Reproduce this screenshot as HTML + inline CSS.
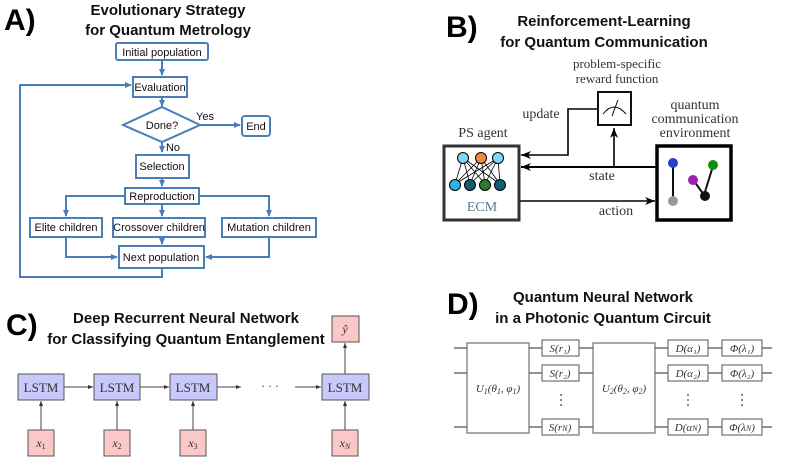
<!DOCTYPE html>
<html><head><meta charset="utf-8"><style>
html,body{margin:0;padding:0;background:#fff}
svg{display:block}
.t{font-family:"Liberation Sans",sans-serif;font-weight:bold;font-size:15px;fill:#111;text-anchor:middle}
.big{font-family:"Liberation Sans",sans-serif;font-weight:bold;font-size:30px;fill:#000}
.fb{fill:#fff;stroke:#4a7ebb;stroke-width:2}
.ft{font-family:"Liberation Sans",sans-serif;font-size:11px;fill:#111;text-anchor:middle}
.fl{stroke:#4a7ebb;stroke-width:2;fill:none}
.s{font-family:"Liberation Serif",serif;font-size:14px;fill:#333;text-anchor:middle}
.m{font-family:"Liberation Serif",serif;font-size:12px;fill:#333;text-anchor:middle;font-style:italic}
.k{stroke:#000;stroke-width:2;fill:none}
</style></head><body>
<svg width="789" height="466" viewBox="0 0 789 466" xmlns="http://www.w3.org/2000/svg">
<defs>
<marker id="ab" markerWidth="8" markerHeight="8" refX="6" refY="4" orient="auto" markerUnits="userSpaceOnUse"><path d="M0,1 L7,4 L0,7 z" fill="#4a7ebb"/></marker>
<marker id="ak" markerWidth="12" markerHeight="10" refX="10" refY="5" orient="auto" markerUnits="userSpaceOnUse"><path d="M0,1 L10,5 L0,9 L3,5 z" fill="#000"/></marker>
<marker id="as" markerWidth="6" markerHeight="6" refX="5" refY="3" orient="auto" markerUnits="userSpaceOnUse"><path d="M0,1 L5,3 L0,5 z" fill="#333"/></marker>
</defs>

<!-- A -->
<text class="big" x="4" y="30">A)</text>
<text class="t" x="168" y="15">Evolutionary Strategy</text>
<text class="t" x="168" y="35">for Quantum Metrology</text>
<path class="fl" d="M162,60 V75" marker-end="url(#ab)"/>
<path class="fl" d="M162,97 V106" marker-end="url(#ab)"/>
<path class="fl" d="M200,125 H240" marker-end="url(#ab)"/>
<path class="fl" d="M162,141 V152" marker-end="url(#ab)"/>
<path class="fl" d="M162,178 V186" marker-end="url(#ab)"/>
<path class="fl" d="M125,196 H66 V216" marker-end="url(#ab)"/>
<path class="fl" d="M199,196 H269 V216" marker-end="url(#ab)"/>
<path class="fl" d="M162,204 V216" marker-end="url(#ab)"/>
<path class="fl" d="M66,237 V257 H117" marker-end="url(#ab)"/>
<path class="fl" d="M269,237 V257 H206" marker-end="url(#ab)"/>
<path class="fl" d="M162,237 V244" marker-end="url(#ab)"/>
<path class="fl" d="M162,268 V277 H20 V85 H131" marker-end="url(#ab)"/>
<rect class="fb" x="116" y="43" width="92" height="17" rx="2"/><text class="ft" x="162" y="56">Initial population</text>
<rect class="fb" x="133" y="77" width="54" height="20"/><text class="ft" x="160" y="91">Evaluation</text>
<path class="fb" d="M123,125 L162,107 L200,125 L162,142 z"/><text class="ft" x="162" y="129">Done?</text>
<text class="ft" x="205" y="120">Yes</text>
<text class="ft" x="173" y="151">No</text>
<rect class="fb" x="242" y="116" width="28" height="20" rx="3"/><text class="ft" x="256" y="130">End</text>
<rect class="fb" x="136" y="155" width="53" height="23"/><text class="ft" x="162" y="170">Selection</text>
<rect class="fb" x="125" y="188" width="74" height="16"/><text class="ft" x="162" y="200">Reproduction</text>
<rect class="fb" x="30" y="218" width="72" height="19"/><text class="ft" x="66" y="231">Elite children</text>
<rect class="fb" x="113" y="218" width="92" height="19"/><text class="ft" x="159" y="231">Crossover children</text>
<rect class="fb" x="222" y="218" width="94" height="19"/><text class="ft" x="269" y="231">Mutation children</text>
<rect class="fb" x="119" y="246" width="85" height="22"/><text class="ft" x="161" y="261">Next population</text>

<!-- B -->
<text class="big" x="446" y="37">B)</text>
<text class="t" x="604" y="26">Reinforcement-Learning</text>
<text class="t" x="604" y="47">for Quantum Communication</text>
<text class="s" x="617" y="68" style="font-size:13px">problem-specific</text>
<text class="s" x="617" y="83" style="font-size:13px">reward function</text>
<text class="s" x="695" y="109">quantum</text>
<text class="s" x="695" y="123">communication</text>
<text class="s" x="695" y="137">environment</text>
<text class="s" x="483" y="137">PS agent</text>
<text class="s" x="541" y="118">update</text>
<text class="s" x="602" y="180">state</text>
<text class="s" x="616" y="215">action</text>
<path d="M597,109 H568 V155 H521" stroke="#000" stroke-width="1.6" fill="none" marker-end="url(#ak)"/>
<path d="M656,167 H521" stroke="#000" stroke-width="2" fill="none" marker-end="url(#ak)"/>
<path d="M614,167 V128" stroke="#000" stroke-width="1.6" fill="none" marker-end="url(#ak)"/>
<path d="M519,201 H655" stroke="#000" stroke-width="1.6" fill="none" marker-end="url(#ak)"/>
<rect x="598" y="92" width="33" height="33" fill="#fff" stroke="#111" stroke-width="2"/>
<path d="M603,114 Q614,100 626,114" stroke="#000" fill="none" stroke-width="1"/>
<path d="M612,116 L618,100" stroke="#000" stroke-width="1"/>
<rect x="444" y="146" width="75" height="74" fill="#fff" stroke="#333" stroke-width="3"/>
<g stroke="#000" stroke-width="0.8">
<path d="M463,158 L455,184 M463,158 L470,184 M463,158 L485,184 M463,158 L500,184 M481,158 L455,184 M481,158 L470,184 M481,158 L485,184 M481,158 L500,184 M498,158 L455,184 M498,158 L470,184 M498,158 L485,184 M498,158 L500,184"/>
</g>
<g stroke="#000" stroke-width="1">
<circle cx="463" cy="158" r="5.5" fill="#7fd7f5"/>
<circle cx="481" cy="158" r="5.5" fill="#f08a3c"/>
<circle cx="498" cy="158" r="5.5" fill="#7fd7f5"/>
<circle cx="455" cy="185" r="5.5" fill="#2bb5e0"/>
<circle cx="470" cy="185" r="5.5" fill="#0f5e78"/>
<circle cx="485" cy="185" r="5.5" fill="#2f7a2f"/>
<circle cx="500" cy="185" r="5.5" fill="#0f5e78"/>
</g>
<text class="s" x="482" y="211" style="fill:#5a7a8a">ECM</text>
<rect x="657" y="146" width="74" height="74" fill="#fff" stroke="#000" stroke-width="3.5"/>
<path d="M673,163 V200 M694,181 L704,195 L713,166" stroke="#111" stroke-width="2" fill="none"/>
<circle cx="673" cy="163" r="5" fill="#2a3fd0"/>
<circle cx="673" cy="201" r="5" fill="#999"/>
<circle cx="693" cy="180" r="5" fill="#a020b0"/>
<circle cx="705" cy="196" r="5" fill="#111"/>
<circle cx="713" cy="165" r="5" fill="#109010"/>

<!-- C -->
<text class="big" x="6" y="335">C)</text>
<text class="t" x="186" y="323">Deep Recurrent Neural Network</text>
<text class="t" x="186" y="344">for Classifying Quantum Entanglement</text>
<g stroke="#444" stroke-width="1">
<path d="M64,387 H93" marker-end="url(#as)"/>
<path d="M140,387 H169" marker-end="url(#as)"/>
<path d="M217,387 H241" marker-end="url(#as)"/>
<path d="M295,387 H321" marker-end="url(#as)"/>
<path d="M41,430 V401" marker-end="url(#as)"/>
<path d="M117,430 V401" marker-end="url(#as)"/>
<path d="M193,430 V401" marker-end="url(#as)"/>
<path d="M345,430 V401" marker-end="url(#as)"/>
<path d="M345,374 V343" marker-end="url(#as)"/>
</g>
<text x="270" y="390" class="m" style="font-style:normal">· · ·</text>
<g fill="#c8c8fa" stroke="#555" stroke-width="1">
<rect x="18" y="374" width="46" height="26"/><rect x="94" y="374" width="46" height="26"/>
<rect x="170" y="374" width="47" height="26"/><rect x="322" y="374" width="47" height="26"/>
</g>
<g fill="#fbc8c8" stroke="#555" stroke-width="1">
<rect x="28" y="430" width="26" height="26"/><rect x="104" y="430" width="26" height="26"/>
<rect x="180" y="430" width="26" height="26"/><rect x="332" y="430" width="26" height="26"/>
<rect x="332" y="316" width="27" height="26"/>
</g>
<text x="41" y="392" class="s" style="font-size:13px">LSTM</text><text x="117" y="392" class="s" style="font-size:13px">LSTM</text>
<text x="193" y="392" class="s" style="font-size:13px">LSTM</text><text x="345" y="392" class="s" style="font-size:13px">LSTM</text>
<text class="m" x="41" y="447">x<tspan font-size="8" font-style="normal" dy="2">1</tspan></text>
<text class="m" x="117" y="447">x<tspan font-size="8" font-style="normal" dy="2">2</tspan></text>
<text class="m" x="193" y="447">x<tspan font-size="8" font-style="normal" dy="2">3</tspan></text>
<text class="m" x="345" y="447">x<tspan font-size="8" dy="2">N</tspan></text>
<text class="m" x="345" y="333">ŷ</text>

<!-- D -->
<text class="big" x="447" y="314">D)</text>
<text class="t" x="603" y="302">Quantum Neural Network</text>
<text class="t" x="603" y="323">in a Photonic Quantum Circuit</text>
<g stroke="#555" stroke-width="1.2">
<path d="M454,348 H772 M454,373 H772 M454,427 H772"/>
</g>
<g fill="#fff" stroke="#555" stroke-width="1">
<rect x="467" y="343" width="62" height="90"/>
<rect x="593" y="343" width="62" height="90"/>
<rect x="542" y="340" width="37" height="16"/><rect x="542" y="365" width="37" height="16"/><rect x="542" y="419" width="37" height="16"/>
<rect x="668" y="340" width="40" height="16"/><rect x="668" y="365" width="40" height="16"/><rect x="668" y="419" width="40" height="16"/>
<rect x="722" y="340" width="40" height="16"/><rect x="722" y="365" width="40" height="16"/><rect x="722" y="419" width="40" height="16"/>
</g>
<text class="m" style="font-size:11px" x="498" y="392">U<tspan font-size="8" dy="2">1</tspan><tspan dy="-2">(θ</tspan><tspan font-size="8" dy="2">1</tspan><tspan dy="-2">, φ</tspan><tspan font-size="8" dy="2">1</tspan><tspan dy="-2">)</tspan></text>
<text class="m" style="font-size:11px" x="624" y="392">U<tspan font-size="8" dy="2">2</tspan><tspan dy="-2">(θ</tspan><tspan font-size="8" dy="2">2</tspan><tspan dy="-2">, φ</tspan><tspan font-size="8" dy="2">2</tspan><tspan dy="-2">)</tspan></text>
<text class="m" style="font-size:11px" x="560" y="352">S(r₁)</text>
<text class="m" style="font-size:11px" x="560" y="377">S(r₂)</text>
<text class="m" style="font-size:11px" x="560" y="431">S(r<tspan font-size="8">N</tspan>)</text>
<text class="m" style="font-size:11px" x="688" y="352">D(α₁)</text>
<text class="m" style="font-size:11px" x="688" y="377">D(α₂)</text>
<text class="m" style="font-size:11px" x="688" y="431">D(α<tspan font-size="8">N</tspan>)</text>
<text class="m" style="font-size:11px" x="742" y="352">Φ(λ₁)</text>
<text class="m" style="font-size:11px" x="742" y="377">Φ(λ₂)</text>
<text class="m" style="font-size:11px" x="742" y="431">Φ(λ<tspan font-size="8">N</tspan>)</text>
<g fill="#333">
<circle cx="561" cy="395" r="0.9"/><circle cx="561" cy="400" r="0.9"/><circle cx="561" cy="405" r="0.9"/>
<circle cx="688" cy="395" r="0.9"/><circle cx="688" cy="400" r="0.9"/><circle cx="688" cy="405" r="0.9"/>
<circle cx="742" cy="395" r="0.9"/><circle cx="742" cy="400" r="0.9"/><circle cx="742" cy="405" r="0.9"/>
</g>
</svg>
</body></html>
